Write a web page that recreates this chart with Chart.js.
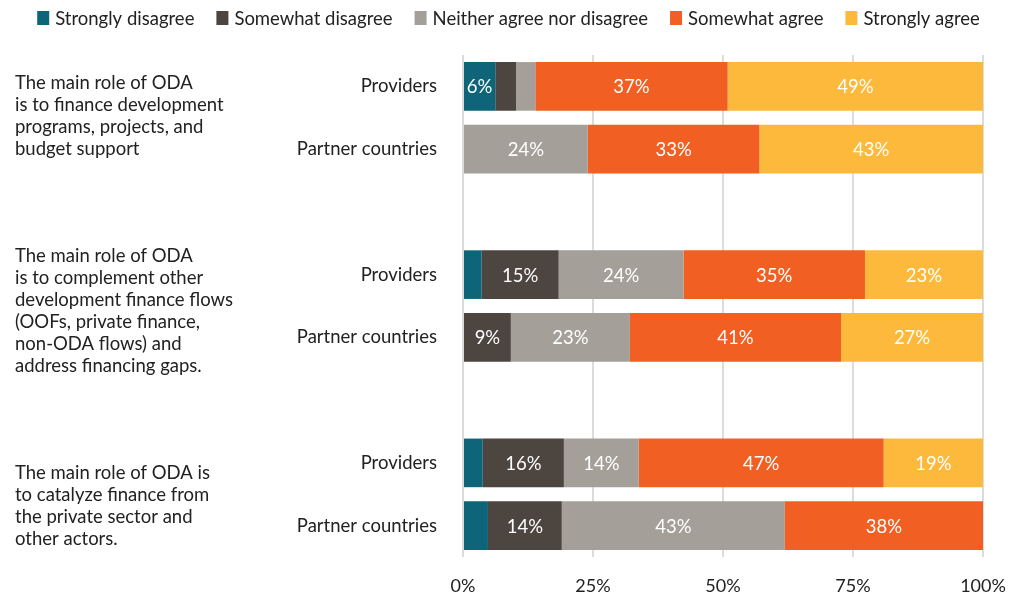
<!DOCTYPE html>
<html>
<head>
<meta charset="utf-8">
<script src="https://cdn.jsdelivr.net/npm/chart.js@4.4.0/dist/chart.umd.min.js"></script>
<style>
body{margin:0;background:#fff;}
#wrap{width:1009px;height:597px;}
</style>
</head>
<body>
<div id="wrap"><canvas id="c" width="1009" height="597"></canvas></div>
<script>
// rows: each statement has a Providers / Partner countries pair, empty rows keep the groups apart
var rowLabels = ['Providers', 'Partner countries', '', 'Providers', 'Partner countries', '', 'Providers', 'Partner countries'];

// shares in percent, one array per answer
var stronglyDisagree = [6.2, 0, null, 3.6, 0, null, 3.8, 4.8];
var somewhatDisagree = [4.0, 0, null, 14.8, 9.2, null, 15.6, 14.2];
var neitherAgree = [3.7, 24.0, null, 24.0, 22.9, null, 14.4, 42.9];
var somewhatAgree = [37.0, 33.0, null, 34.9, 40.6, null, 47.1, 38.1];
var stronglyAgree = [49.1, 43.0, null, 22.7, 27.3, null, 19.1, 0];

var answerNames = ['Strongly disagree', 'Somewhat disagree', 'Neither agree nor disagree', 'Somewhat agree', 'Strongly agree'];
var xTicks = [0, 25, 50, 75, 100];

var statements = [
  ['The main role of ODA', 'is to finance development', 'programs, projects, and', 'budget support'],
  ['The main role of ODA', 'is to complement other', 'development finance flows', '(OOFs, private finance,', 'non-ODA flows) and', 'address financing gaps.'],
  ['The main role of ODA is', 'to catalyze finance from', 'the private sector and', 'other actors.']
];

var FONT = 'Lato, "Open Sans", sans-serif';
var TXT = '#222222';
var colors = ['#0e657a', '#4d4540', '#a49f99', '#f15f23', '#fdb93b'];
var series = [stronglyDisagree, somewhatDisagree, neitherAgree, somewhatAgree, stronglyAgree];

var datasets = [];
for (var i = 0; i < series.length; i++) {
  datasets.push({
    label: answerNames[i],
    data: series[i],
    backgroundColor: colors[i],
    borderWidth: 0,
    barPercentage: 1,
    categoryPercentage: 0.775
  });
}

// white percentage inside each segment, small slivers are left blank
var segmentLabels = {
  id: 'segmentLabels',
  afterDatasetsDraw: function(chart) {
    var ctx = chart.ctx;
    ctx.save();
    ctx.font = '18.5px ' + FONT;
    ctx.fillStyle = '#ffffff';
    ctx.textAlign = 'center';
    ctx.textBaseline = 'middle';
    chart.data.datasets.forEach(function(ds, di) {
      var meta = chart.getDatasetMeta(di);
      meta.data.forEach(function(bar, j) {
        var v = ds.data[j];
        if (v == null || v < 5) return;
        ctx.fillText(Math.round(v) + '%', (bar.x + bar.base) / 2, bar.y + 1);
      });
    });
    ctx.restore();
  }
};

// statement text on the far left, next to its pair of bars
var statementText = {
  id: 'statementText',
  afterDraw: function(chart) {
    var ctx = chart.ctx;
    var y = chart.scales.y;
    var shift = [-1.5, 5, 11.5];
    var lineH = 22;
    ctx.save();
    ctx.font = '18.5px ' + FONT;
    ctx.fillStyle = TXT;
    ctx.textAlign = 'left';
    ctx.textBaseline = 'middle';
    for (var g = 0; g < statements.length; g++) {
      var mid = (y.getPixelForValue(g * 3) + y.getPixelForValue(g * 3 + 1)) / 2 + shift[g];
      var lines = statements[g];
      var top = mid - (lines.length - 1) * lineH / 2;
      for (var k = 0; k < lines.length; k++) {
        ctx.fillText(lines[k], 15, top + k * lineH);
      }
    }
    ctx.restore();
  }
};

// one-row legend across the top
var topLegend = {
  id: 'topLegend',
  afterDraw: function(chart) {
    var ctx = chart.ctx;
    var dss = chart.data.datasets;
    var box = 12, boxH = 14, gap = 6, space = 22, cy = 18;
    ctx.save();
    ctx.font = '18.5px ' + FONT;
    ctx.textBaseline = 'middle';
    ctx.textAlign = 'left';
    var total = 0;
    var widths = dss.map(function(ds) { return ctx.measureText(ds.label).width; });
    widths.forEach(function(w) { total += box + gap + w; });
    total += space * (dss.length - 1);
    var x = (chart.width - total) / 2 + 4;
    dss.forEach(function(ds, i) {
      ctx.fillStyle = ds.backgroundColor;
      ctx.fillRect(x, cy - boxH / 2, box, boxH);
      ctx.fillStyle = TXT;
      ctx.fillText(ds.label, x + box + gap, cy + 1);
      x += box + gap + widths[i] + space;
    });
    ctx.restore();
  }
};

var ctx = document.getElementById('c').getContext('2d');
var chart = new Chart(ctx, {
  type: 'bar',
  data: {
    labels: rowLabels,
    datasets: datasets
  },
  options: {
    indexAxis: 'y',
    responsive: false,
    animation: false,
    layout: { padding: { top: 55, right: 26, bottom: 0, left: 0 } },
    plugins: {
      tooltip: { enabled: false },
      legend: { display: false }
    },
    scales: {
      x: {
        stacked: true,
        min: 0,
        max: 100,
        afterBuildTicks: function(scale) {
          scale.ticks = xTicks.map(function(v) { return { value: v }; });
        },
        afterFit: function(scale) {
          scale.height = 40;
          scale.paddingLeft = 0;
          scale.paddingRight = 0;
        },
        grid: { color: '#dcdcdc', lineWidth: 2, drawTicks: false },
        border: { display: false },
        ticks: {
          padding: 18,
          color: TXT,
          font: { family: FONT, size: 18 },
          callback: function(v) { return v + '%'; }
        }
      },
      y: {
        stacked: true,
        grid: { display: false, drawTicks: false },
        border: { display: false },
        afterFit: function(scale) { scale.width = 463; },
        ticks: {
          padding: 26,
          color: TXT,
          font: { family: FONT, size: 18.5 }
        }
      }
    }
  },
  plugins: [segmentLabels, statementText, topLegend]
});
</script>
</body>
</html>
